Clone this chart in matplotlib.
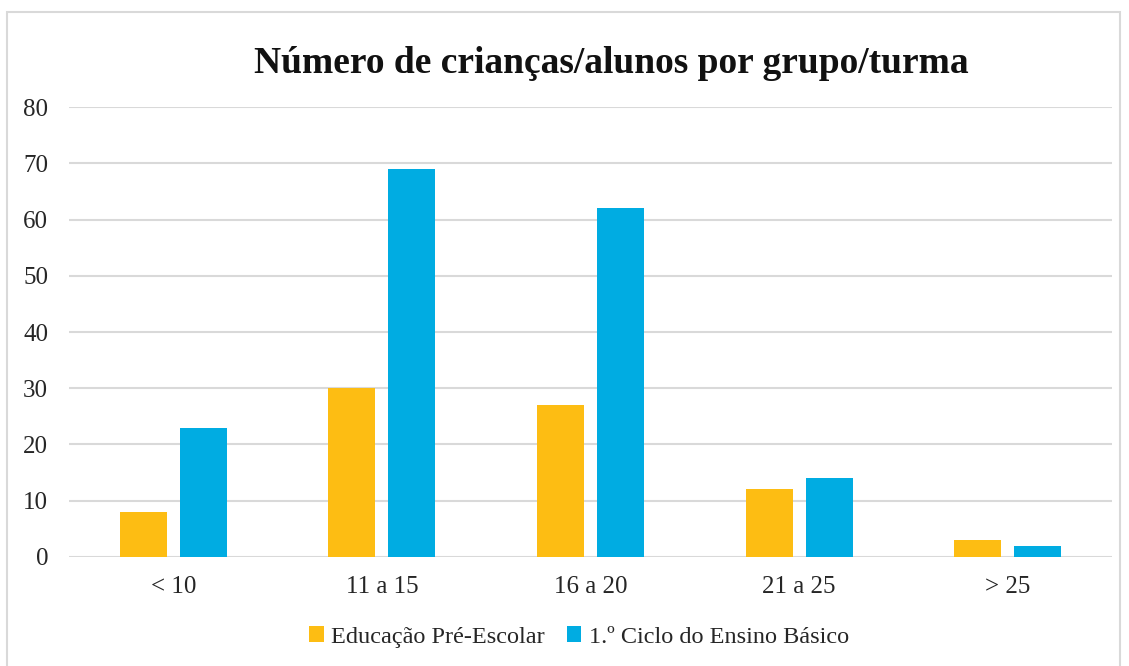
import numpy as np
import matplotlib
matplotlib.use('Agg')
from matplotlib import pyplot as plt
from matplotlib.patches import Rectangle

categories = ['< 10', '11 a 15', '16 a 20', '21 a 25', '> 25']
pre_escolar = [8, 30, 27, 12, 3]
ciclo1 = [23, 69, 62, 14, 2]
series_names = ['Educação Pré-Escolar', '1.º Ciclo do Ensino Básico']
colors = ['#FDBD13', '#00ACE2']

plt.rcParams['font.family'] = ['Liberation Serif', 'DejaVu Serif']

fig = plt.figure(figsize=(11.29, 6.66), dpi=100)
ax = fig.add_axes([0.0611, 0.1637, 0.9239, 0.6756])

x = np.arange(len(categories))
w = 0.225
ax.bar(x - 0.144, pre_escolar, w, color=colors[0], label=series_names[0], zorder=3)
ax.bar(x + 0.144, ciclo1, w, color=colors[1], label=series_names[1], zorder=3)

ax.set_xlim(-0.5, len(categories) - 0.5)
ax.set_ylim(0, 80)
ax.set_yticks(range(0, 81, 10))
ax.set_xticks(x)
ax.set_xticklabels(categories)
ax.grid(axis='y', color='#D9D9D9', linewidth=1.5, zorder=0)
for s in ax.spines.values():
    s.set_visible(False)
ax.tick_params(axis='both', length=0, labelsize=18, colors='#262626')
ax.tick_params(axis='x', pad=14)
ax.tick_params(axis='y', pad=15)

fig.text(0.5416, 0.905, 'Número de crianças/alunos por grupo/turma', ha='center', va='center',
         fontsize=27, fontweight='bold', color='#111111')

ax.legend(loc='center', bbox_to_anchor=(579 / 1129, 1 - 637 / 666), bbox_transform=fig.transFigure,
          ncol=2, frameon=False, fontsize=17.5, handlelength=0.6, handleheight=0.6,
          handletextpad=0.3, columnspacing=0.9)
for t in ax.get_legend().get_texts():
    t.set_color('#262626')

fig.patches.append(Rectangle((7 / 1129, -0.05), 1113 / 1129, 1.05 - 12 / 666,
                             transform=fig.transFigure, fill=False,
                             edgecolor='#D9D9D9', linewidth=1.5))

fig.savefig('out.png', dpi=100)
